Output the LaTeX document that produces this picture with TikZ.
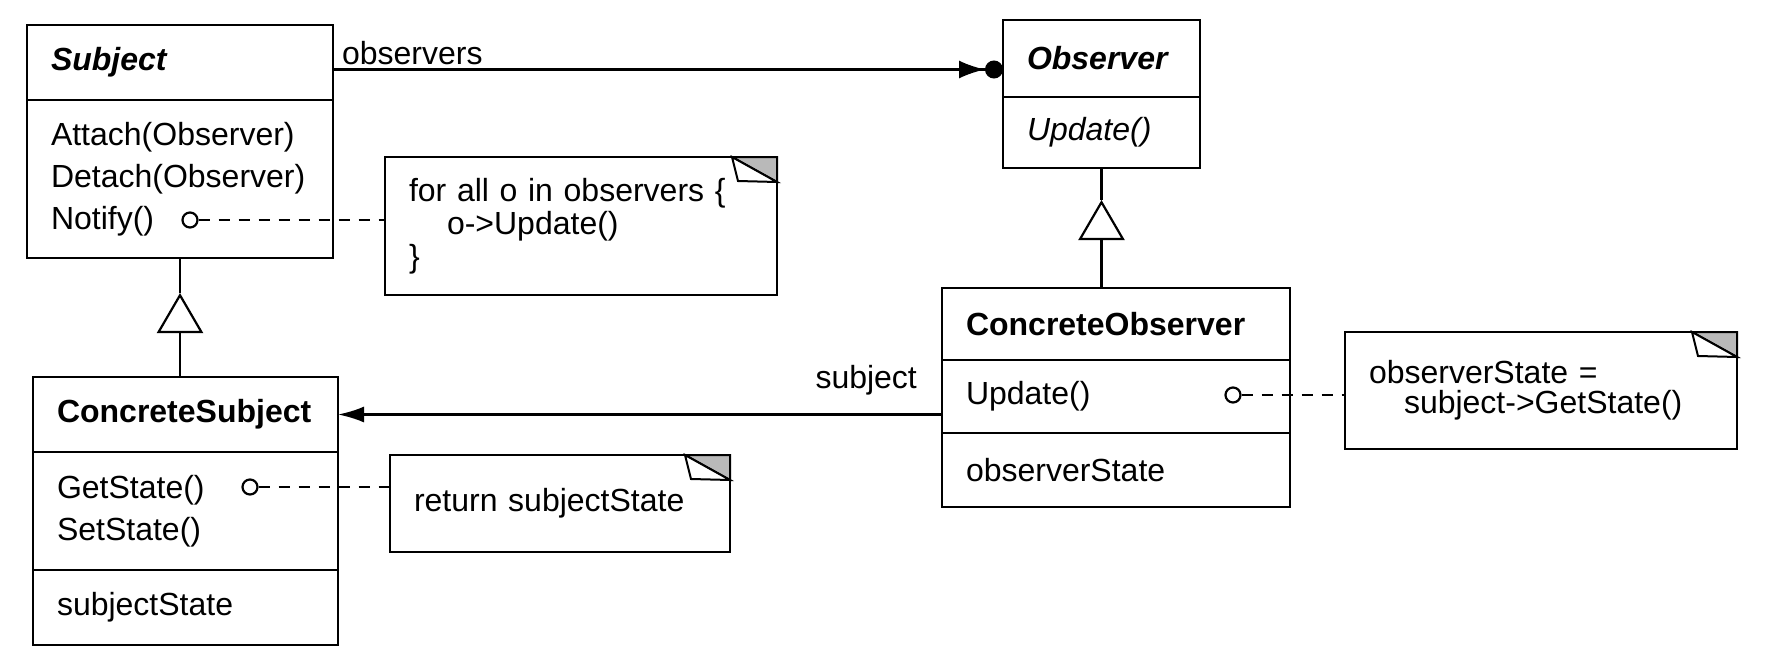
\documentclass[tikz,border=0pt]{standalone}
\usepackage{fontspec}
\setmainfont{Liberation Sans}
\usetikzlibrary{arrows.meta}
\tikzset{
  part/.style={draw, line width=1.2pt, outer sep=0pt, inner xsep=12pt, inner ysep=2pt,
    anchor=north west, align=left},
  note/.style={draw, line width=1.2pt, outer sep=0pt, inner xsep=12pt, inner ysep=2pt,
    anchor=north west, align=left, font=\fontsize{16pt}{16.5pt}\selectfont},
  opdot/.style={circle, draw, line width=1.1pt, minimum size=7.5pt, inner sep=0pt},
  noteline/.style={line width=1.1pt, dash pattern=on 5.5pt off 4.5pt},
  plain/.style={line width=1.1pt},
  inherit/.style={line width=1.1pt, -{Triangle[open, length=20pt, width=23pt, line width=1.1pt]}},
  many/.style={line width=1.1pt, -{Latex[length=13pt, width=9pt] Circle[length=9pt]}},
  navig/.style={line width=1.1pt, -{Latex[length=13pt, width=8pt]}},
}

\begin{document}
\begin{tikzpicture}[x=0.5pt, y=-0.5pt, font=\fontsize{16pt}{21pt}\selectfont]
    \useasboundingbox (0,0) rectangle (1779,669);

    % classes
    \node [part, text width=129pt, minimum height=37.5pt] (subjhead) at (27,25) {\textbf{\textit{Subject}}};
    \node [part, text width=129pt, minimum height=79pt] (subjops) at (subjhead.south west)
      {Attach(Observer)\\Detach(Observer)\\Notify()};
    \node [part, text width=128.5pt, minimum height=37.5pt] (csubjhead) at (33,377) {\textbf{ConcreteSubject}};
    \node [part, text width=128.5pt, minimum height=59pt] (csubjops) at (csubjhead.south west)
      {GetState()\\SetState()};
    \node [part, text width=128.5pt, minimum height=37.5pt] (csubjstate) at (csubjops.south west) {subjectState};
    \node [part, text width=74.5pt, minimum height=38.5pt] (obshead) at (1003,20) {\textbf{\textit{Observer}}};
    \node [part, text width=74.5pt, minimum height=35.5pt] (obsops) at (obshead.south west) {\textit{Update()}};
    \node [part, text width=150pt, minimum height=36pt] (cobshead) at (942,288) {\textbf{ConcreteObserver}};
    \node [part, text width=150pt, minimum height=36.5pt] (cobsops) at (cobshead.south west) {Update()};
    \node [part, text width=150pt, minimum height=37pt] (cobsstate) at (cobsops.south west) {observerState};

    % notes
    \node [note, text width=172pt, minimum height=69pt] (notifynote) at (385,157)
      {for all o in observers \{\\\hspace*{19pt}o->Update()\\\}};
    \node [note, text width=146pt, minimum height=48.5pt] (getnote) at (390,455) {return subjectState};
    \node [note, text width=172pt, minimum height=58.5pt, font=\fontsize{16pt}{15pt}\selectfont] (updatenote) at (1345,332)
      {observerState =\\\hspace*{17.5pt}subject->GetState()};
    \foreach \n in {notifynote, getnote, updatenote} {
      \filldraw [fill=gray!55, line width=1pt] (\n.north east) -- ++(-45,0) -- ++(45,25) -- cycle;
      \filldraw [fill=white, line width=1pt] (\n.north east) ++(-45,0) -- ++(6,24) -- ++(39,1) -- cycle;
    }

    % operation dots
    \node [opdot] (notifyo) at (190,220) {};
    \node [opdot] (geto) at (250,487) {};
    \node [opdot] (updateo) at (1233,395) {};
    \draw [noteline] (notifyo) -- (notifyo -| notifynote.west);
    \draw [noteline] (geto) -- (geto -| getnote.west);
    \draw [noteline] (updateo) -- (updateo -| updatenote.west);

    % inheritance
    \coordinate (subjtip) at ([yshift=-17.5pt]subjops.south);
    \coordinate (obstip) at ([yshift=-16pt]obsops.south);
    \draw [inherit] (subjtip |- csubjhead.north) -- (subjtip);
    \draw [plain] (subjtip) -- (subjops.south);
    \draw [inherit] (obstip |- cobshead.north) -- (obstip);
    \draw [plain] (obstip) -- (obsops.south);

    % associations
    \draw [many] ([yshift=-3.5pt]subjhead.east) -- ([yshift=-3.5pt]subjhead.east -| obshead.west)
      node [pos=0, above right, inner sep=2pt, xshift=2pt] {observers};
    \draw [navig] (csubjhead.east -| cobsops.west) -- (csubjhead.east)
      node [pos=0, above left, inner sep=2pt, xshift=-10pt, yshift=7pt] {subject};
\end{tikzpicture}
\end{document}
